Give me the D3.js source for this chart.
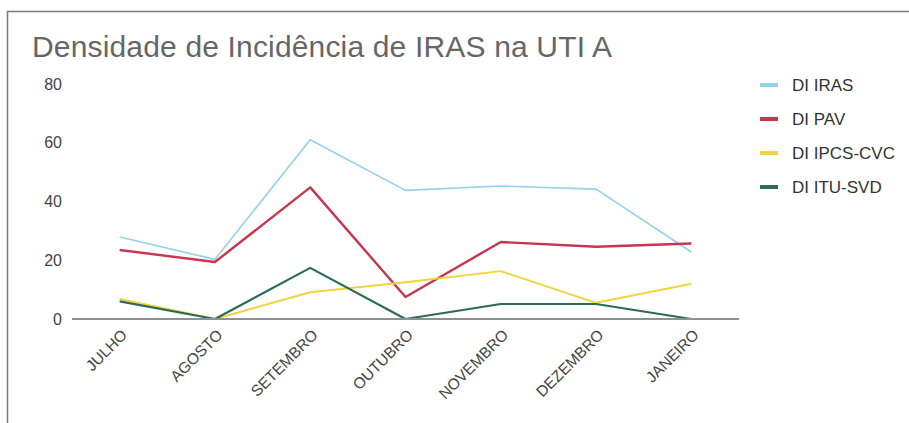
<!DOCTYPE html>
<html>
<head>
<meta charset="utf-8">
<script src="https://cdn.jsdelivr.net/npm/d3@7"></script>
<style>
    body { margin: 0; background: #fff; }
    text { font-family: "Liberation Sans", Arial, sans-serif; }
</style>
</head>
<body>
<script>

let meses = ["JULHO", "AGOSTO", "SETEMBRO", "OUTUBRO", "NOVEMBRO", "DEZEMBRO", "JANEIRO"]

let diIras = [27.9, 20.3, 61, 43.8, 45.3, 44.2, 22.8]
let diPav = [23.5, 19.4, 44.8, 7.5, 26.2, 24.6, 25.7]
let diIpcs = [6.8, 0, 9.1, 12.5, 16.3, 5.5, 12]
let diItu = [6, 0, 17.4, 0, 5.1, 5.1, 0]

let yTicks = [0, 20, 40, 60, 80]

let series = [
    { nome: "DI IRAS", valores: diIras, cor: "#93d2e8", largura: 1.6 },
    { nome: "DI PAV", valores: diPav, cor: "#c8354f", largura: 2.4 },
    { nome: "DI IPCS-CVC", valores: diIpcs, cor: "#f0d43e", largura: 2 },
    { nome: "DI ITU-SVD", valores: diItu, cor: "#2b6b58", largura: 2.2 }
]

let w = 909
let h = 423

let svg = d3.select("body")
            .append("svg")
                .attr("width", w)
                .attr("height", h)

// moldura da foto
svg.append("path")
    .attr("d", "M7.5," + h + "V11.5H" + w)
    .attr("fill", "none")
    .attr("stroke", "#7a7a7a")
    .attr("stroke-width", 1.5)

svg.append("text")
    .attr("x", 32)
    .attr("y", 57)
    .attr("font-size", "30px")
    .attr("textLength", 580)
    .attr("fill", "#666")
    .text("Densidade de Incidência de IRAS na UTI A")

let x = d3.scalePoint()
            .domain(meses)
            .range([72, 739])
            .padding(0.5)

let y = d3.scaleLinear()
            .domain([0, 80])
            .range([319, 84])

let yAxis = svg.append("g")
                .attr("transform", "translate(62,0)")
                .call(d3.axisLeft(y).tickValues(yTicks).tickSize(0).tickPadding(0))

yAxis.select(".domain").remove()
yAxis.selectAll("text")
        .attr("font-size", "16px")
        .attr("font-family", "Liberation Sans, Arial, sans-serif")
        .attr("fill", "#444")

let line = d3.line()
                .x((d, i) => x(meses[i]))
                .y((d) => y(d))

svg.selectAll(".serie")
    .data(series)
    .enter()
    .append("path")
        .attr("class", "serie")
        .attr("d", (d) => line(d.valores))
        .attr("fill", "none")
        .attr("stroke", (d) => d.cor)
        .attr("stroke-width", (d) => d.largura)
        .attr("stroke-linejoin", "round")

// linha do zero por cima
svg.append("line")
    .attr("x1", 72)
    .attr("x2", 739)
    .attr("y1", y(0))
    .attr("y2", y(0))
    .attr("stroke", "#8c909a")
    .attr("stroke-width", 2)

let xAxis = svg.append("g")
                .attr("transform", "translate(0," + y(0) + ")")
                .call(d3.axisBottom(x).tickSize(0).tickPadding(0))

xAxis.select(".domain").remove()
xAxis.selectAll("text")
        .attr("font-size", "15.5px")
        .attr("font-family", "Liberation Sans, Arial, sans-serif")
        .attr("fill", "#444")
        .attr("text-anchor", "end")
        .attr("dy", 0)
        .attr("transform", "translate(8,17) rotate(-45)")

let legend = svg.selectAll(".leg")
                .data(series)
                .enter()
                .append("g")
                .attr("class", "leg")
                .attr("transform", (d, i) => "translate(760," + (85 + i * 34) + ")")

legend.append("rect")
        .attr("x", 0)
        .attr("y", -2)
        .attr("width", 18)
        .attr("height", 4)
        .attr("fill", (d) => d.cor)

legend.append("text")
        .attr("x", 32)
        .attr("y", 0)
        .attr("dy", "0.35em")
        .attr("font-size", "17px")
        .attr("fill", "#333")
        .text((d) => d.nome)

</script>
</body>
</html>
